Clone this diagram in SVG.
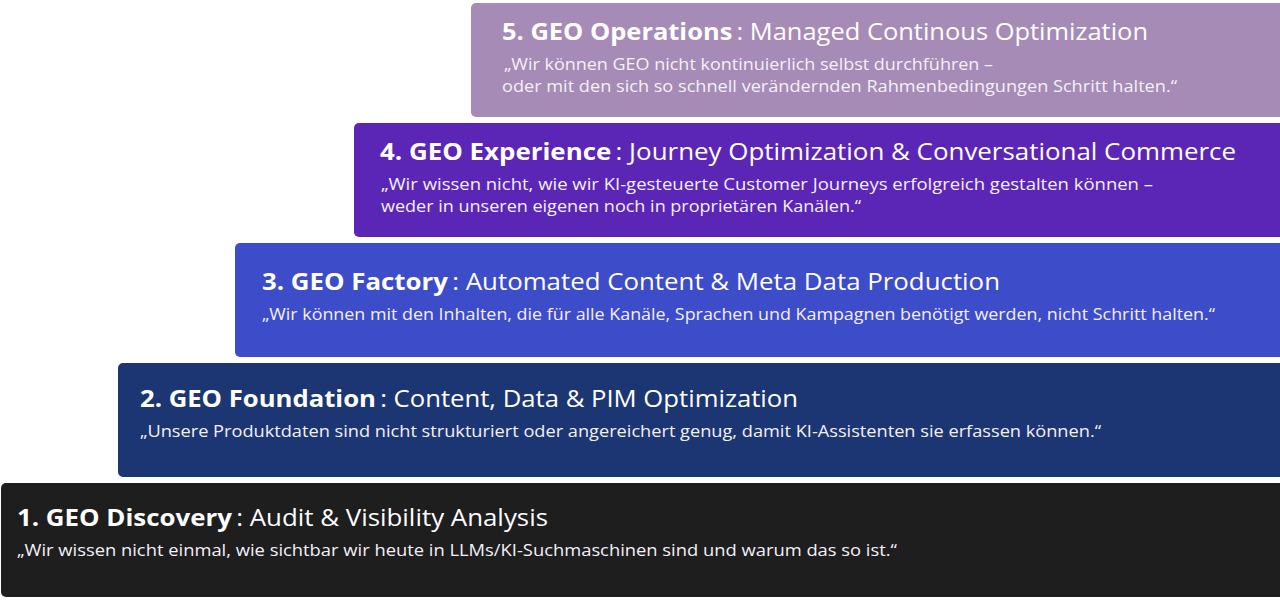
<svg xmlns="http://www.w3.org/2000/svg" width="1280" height="601" viewBox="0 0 1280 601">
<style>
.bar{stroke:none}
.t{font-family:"Open Sans","Noto Sans","Liberation Sans",sans-serif;font-size:23px;fill:#ffffff;font-weight:400}
.t .b{font-weight:700}
.t .c{font-weight:500}
.s{font-family:"Open Sans","Noto Sans","Liberation Sans",sans-serif;font-size:16px;fill:#f4f0f8;font-weight:400}
</style>
<rect width="1280" height="601" fill="#ffffff"/>
<g id="step5">
<rect class="bar" x="471" y="3" width="820" height="114" rx="5" fill="#a68bb6"/>
<text class="t" x="502" y="40" textLength="646" lengthAdjust="spacingAndGlyphs"><tspan class="b">5. GEO Operations</tspan><tspan class="c">&#8201;: </tspan>Managed Continous Optimization</text>
<text class="s" x="504" y="70" textLength="489" lengthAdjust="spacingAndGlyphs">„Wir können GEO nicht kontinuierlich selbst durchführen –</text>
<text class="s" x="502" y="92" textLength="675" lengthAdjust="spacingAndGlyphs">oder mit den sich so schnell verändernden Rahmenbedingungen Schritt halten.“</text>
</g>
<g id="step4">
<rect class="bar" x="354" y="123" width="940" height="114" rx="5" fill="#5b26b6"/>
<text class="t" x="380" y="160" textLength="856" lengthAdjust="spacingAndGlyphs"><tspan class="b">4. GEO Experience</tspan><tspan class="c">&#8201;: </tspan>Journey Optimization &amp; Conversational Commerce</text>
<text class="s" x="381" y="190" textLength="772" lengthAdjust="spacingAndGlyphs">„Wir wissen nicht, wie wir KI-gesteuerte Customer Journeys erfolgreich gestalten können –</text>
<text class="s" x="381" y="212" textLength="480" lengthAdjust="spacingAndGlyphs">weder in unseren eigenen noch in proprietären Kanälen.“</text>
</g>
<g id="step3">
<rect class="bar" x="235" y="243" width="1060" height="114" rx="5" fill="#3d4cc8"/>
<text class="t" x="262" y="290" textLength="738" lengthAdjust="spacingAndGlyphs"><tspan class="b">3. GEO Factory</tspan><tspan class="c">&#8201;: </tspan>Automated Content &amp; Meta Data Production</text>
<text class="s" x="262" y="320" textLength="953" lengthAdjust="spacingAndGlyphs">„Wir können mit den Inhalten, die für alle Kanäle, Sprachen und Kampagnen benötigt werden, nicht Schritt halten.“</text>
</g>
<g id="step2">
<rect class="bar" x="118" y="363" width="1180" height="114" rx="5" fill="#1b3673"/>
<text class="t" x="140" y="407" textLength="658" lengthAdjust="spacingAndGlyphs"><tspan class="b">2. GEO Foundation</tspan><tspan class="c">&#8201;: </tspan>Content, Data &amp; PIM Optimization</text>
<text class="s" x="140" y="437" textLength="961" lengthAdjust="spacingAndGlyphs">„Unsere Produktdaten sind nicht strukturiert oder angereichert genug, damit KI-Assistenten sie erfassen können.“</text>
</g>
<g id="step1">
<rect class="bar" x="1" y="483" width="1300" height="114" rx="5" fill="#1e1e1e"/>
<text class="t" x="17" y="526" textLength="531" lengthAdjust="spacingAndGlyphs"><tspan class="b">1. GEO Discovery</tspan><tspan class="c">&#8201;: </tspan>Audit &amp; Visibility Analysis</text>
<text class="s" x="17" y="556" textLength="880" lengthAdjust="spacingAndGlyphs">„Wir wissen nicht einmal, wie sichtbar wir heute in LLMs/KI-Suchmaschinen sind und warum das so ist.“</text>
</g>
<g id="connectors"></g>
</svg>
